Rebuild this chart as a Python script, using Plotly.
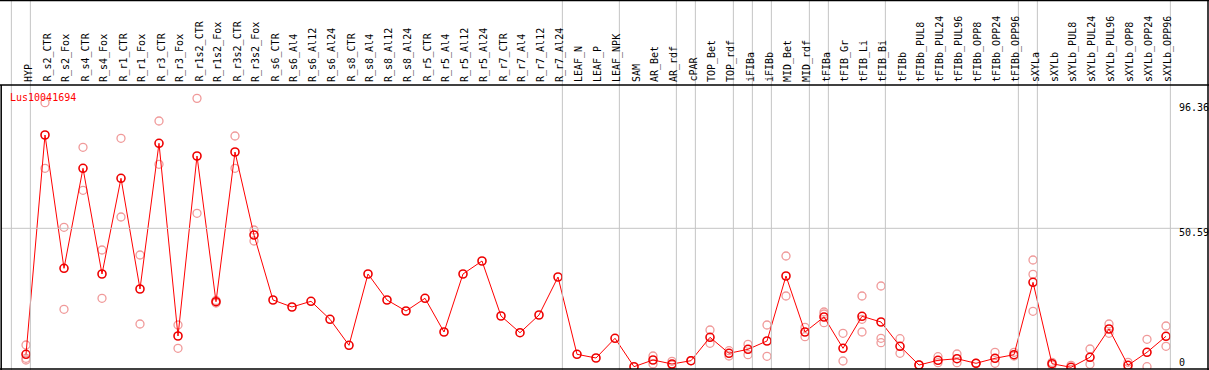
import plotly.graph_objects as go

# ---------------- data ----------------
gene_name = "Lus10041694"

categories = [
    "HYP", "R_s2_CTR", "R_s2_Fox", "R_s4_CTR", "R_s4_Fox", "R_r1_CTR", "R_r1_Fox",
    "R_r3_CTR", "R_r3_Fox", "R_r1s2_CTR", "R_r1s2_Fox", "R_r3s2_CTR", "R_r3s2_Fox",
    "R_s6_CTR", "R_s6_Al4", "R_s6_Al12", "R_s6_Al24", "R_s8_CTR", "R_s8_Al4",
    "R_s8_Al12", "R_s8_Al24", "R_r5_CTR", "R_r5_Al4", "R_r5_Al12", "R_r5_Al24",
    "R_r7_CTR", "R_r7_Al4", "R_r7_Al12", "R_r7_Al24", "LEAF_N", "LEAF_P", "LEAF_NPK",
    "SAM", "AR_Bet", "AR_rdf", "cPAR", "TOP_Bet", "TOP_rdf", "iFIBa", "iFIBb",
    "MID_Bet", "MID_rdf", "tFIBa", "tFIB_Gr", "tFIB_Li", "tFIB_Bi", "tFIBb",
    "tFIBb_PUL8", "tFIBb_PUL24", "tFIBb_PUL96", "tFIBb_OPP8", "tFIBb_OPP24",
    "tFIBb_OPP96", "sXYLa", "sXYLb", "sXYLb_PUL8", "sXYLb_PUL24", "sXYLb_PUL96",
    "sXYLb_OPP8", "sXYLb_OPP24", "sXYLb_OPP96",
]

mean_values = [
    6.23, 83.45, 36.51, 71.73, 34.51, 68.20, 29.23,
    80.53, 12.68, 76.06, 24.75, 77.46, 48.24,
    25.35, 22.89, 24.89, 18.56, 9.40, 34.51,
    25.35, 21.48, 25.95, 14.08, 34.51, 39.08,
    19.72, 13.84, 20.07, 33.45, 6.23, 4.93, 11.87,
    1.87, 4.23, 2.82, 3.98, 12.22, 6.58, 7.99, 10.92,
    33.80, 14.08, 19.37, 8.35, 19.61, 17.61, 9.05,
    2.46, 4.12, 4.68, 3.06, 4.82,
    6.09, 31.58, 2.92, 1.65, 5.18, 15.14,
    2.36, 6.94, 12.57,
]

replicate_values = [
    [9.51, 4.82, 4.23], [94.82, 71.73], [50.95, 22.08], [79.12, 63.98], [42.96, 25.95],
    [82.29, 54.58], [41.20, 16.90],
    [88.38, 73.13], [16.55, 8.35], [96.36, 55.88], [25.20, 24.30], [83.10, 71.73], [50.00, 46.13],
    [], [], [], [], [], [],
    [], [], [], [], [], [],
    [], [], [], [], [], [], [],
    [], [5.63, 2.82], [3.77, 2.46], [3.98, 3.98], [14.79, 10.10], [7.50, 5.63], [9.75, 6.09], [16.55, 5.53],
    [40.85, 26.76], [15.74, 12.43], [21.13, 20.42, 17.36], [13.63, 3.87], [26.76, 14.08, 18.56],
    [30.28, 11.87, 10.32], [11.73, 6.58],
    [2.50, 2.40], [5.39, 3.27], [6.34, 3.27], [3.06, 3.06], [6.94, 3.06],
    [6.94, 5.63], [39.44, 34.40, 21.37], [3.42, 2.40], [2.36, 0.95], [8.10, 2.71], [16.90, 13.63],
    [3.42, 1.30], [11.51, 1.87], [16.20, 9.05],
]

y_tick_values = [96.36, 50.59, 0]
y_tick_labels = ["96.36", "50.59", "0"]

# categories after which a group separator is drawn (index -1 = before first)
separator_after = [-1, 0, 28, 31, 34, 35, 37, 38, 39, 41, 42, 45, 52, 53, 60]

# ---------------- figure ----------------
W, H = 1209, 370
MONO = "DejaVu Sans Mono"

rep_x, rep_y = [], []
for cat, reps in zip(categories, replicate_values):
    for r in reps:
        rep_x.append(cat)
        rep_y.append(r)

fig = go.Figure()
fig.add_trace(go.Scatter(
    x=rep_x, y=rep_y, mode="markers",
    marker=dict(symbol="circle-open", size=8, color="#f09a9a",
                line=dict(width=1.3, color="#f09a9a")),
    hoverinfo="skip", showlegend=False,
))
fig.add_trace(go.Scatter(
    x=categories, y=mean_values, mode="lines+markers",
    line=dict(color="#ff0000", width=1),
    marker=dict(symbol="circle-open", size=8, color="#ee0000",
                line=dict(width=1.6, color="#ee0000")),
    showlegend=False,
))

# plot area in pixels: x 1..1208, y 85..369 (from top)
x_left_px, x_right_px = 1, 1208
y_top_px, y_bot_px = 85, 369
px0, dpx = 26.0, 19.0          # pixel of first category, spacing
zero_px, px_per_unit = 372.0, 2.84

x_range = [(x_left_px - px0) / dpx, (x_right_px - px0) / dpx]
y_range = [(zero_px - y_bot_px) / px_per_unit, (zero_px - y_top_px) / px_per_unit]

shapes = []
grey = "#c4c4c4"
for s in separator_after:
    shapes.append(dict(type="line", xref="x", yref="paper",
                       x0=s + 0.23, x1=s + 0.23, y0=0, y1=1,
                       line=dict(color=grey, width=1)))
shapes.append(dict(type="line", xref="paper", yref="y",
                   x0=x_left_px / W, x1=x_right_px / W,
                   y0=y_tick_values[1], y1=y_tick_values[1],
                   line=dict(color=grey, width=1)))

def py(px):
    return (H - px) / H

black = "#000000"
# borders
shapes += [
    dict(type="line", xref="paper", yref="paper", x0=0, x1=1, y0=py(0.5), y1=py(0.5),
         line=dict(color=black, width=1.5)),
    dict(type="line", xref="paper", yref="paper", x0=0, x1=1, y0=py(85), y1=py(85),
         line=dict(color=black, width=1.5)),
    dict(type="line", xref="paper", yref="paper", x0=0, x1=1, y0=py(369), y1=py(369),
         line=dict(color=black, width=1.5)),
    dict(type="line", xref="paper", yref="paper", x0=1.2 / W, x1=1.2 / W, y0=py(85), y1=py(370),
         line=dict(color=black, width=1.5)),
    dict(type="line", xref="paper", yref="paper", x0=1208 / W, x1=1208 / W, y0=py(0), y1=py(370),
         line=dict(color=black, width=1.5)),
]

annotations = []
for cat in categories:
    annotations.append(dict(
        x=cat, xref="x", y=py(84), yref="paper", text=cat, textangle=-90,
        showarrow=False, xanchor="center", yanchor="bottom", xshift=2,
        font=dict(family=MONO, size=10, color=black),
    ))

annotations.append(dict(
    x=8 / W, xref="paper", y=py(97.3), yref="paper", text=gene_name,
    showarrow=False, xanchor="left", yanchor="middle",
    font=dict(family=MONO, size=10, color="#ff0000"),
))

label_centers_px = [107.5, 232.5, 362]
for lab, cpx in zip(y_tick_labels, label_centers_px):
    annotations.append(dict(
        x=1177 / W, xref="paper", y=py(cpx), yref="paper", text=lab,
        showarrow=False, xanchor="left", yanchor="middle",
        font=dict(family=MONO, size=10, color=black),
    ))

fig.update_layout(
    width=W, height=H,
    margin=dict(l=0, r=0, t=0, b=0, pad=0),
    paper_bgcolor="white", plot_bgcolor="white",
    xaxis=dict(type="category", categoryorder="array", categoryarray=categories,
               range=x_range, domain=[x_left_px / W, x_right_px / W],
               showticklabels=False, showgrid=False, zeroline=False, showline=False,
               ticks=""),
    yaxis=dict(range=y_range, domain=[py(y_bot_px), py(y_top_px)],
               showticklabels=False, showgrid=False, zeroline=False, showline=False,
               ticks=""),
    shapes=shapes,
    annotations=annotations,
)

fig.write_html(
    "out.html",
    config={"displayModeBar": False},
    post_script="document.body.style.margin='0';document.body.style.overflow='hidden';",
)
